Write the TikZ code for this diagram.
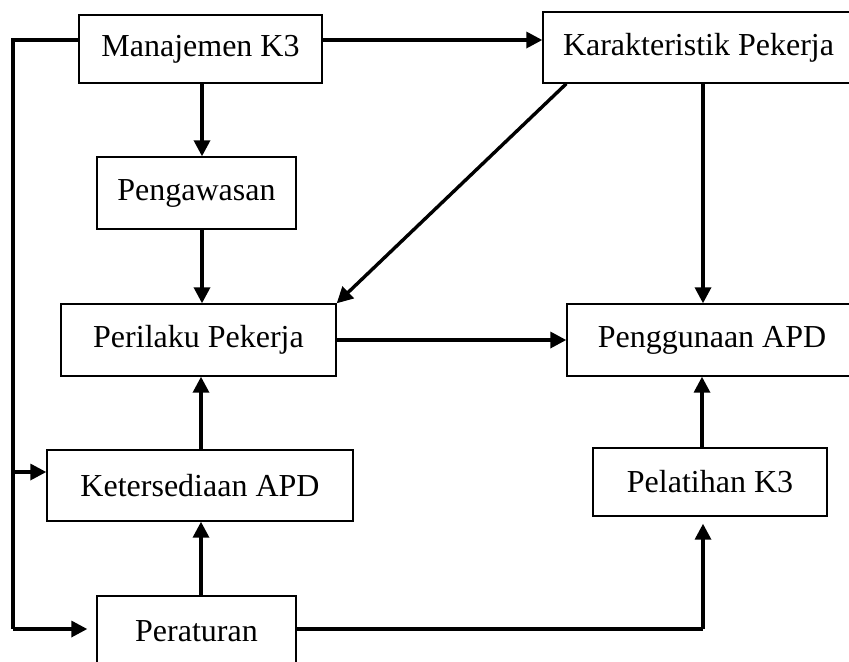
\documentclass[tikz,border=0pt]{standalone}
\usepackage{fontspec}
\setmainfont{Liberation Serif}
\usetikzlibrary{arrows.meta}
\begin{document}
\begin{tikzpicture}[x=0.5pt,y=-0.5pt,
  box/.style={draw,line width=0.7pt,rectangle,inner sep=0pt,font=\fontsize{16}{18}\selectfont},
  conn/.style={line width=1.7pt},
  arr/.style={conn,-{Triangle[length=8pt,width=8pt]}}]
\clip (0,0) rectangle (849,661);
\useasboundingbox (0,0) rectangle (849,661);
\node[box,minimum width=243*0.5pt,minimum height=68*0.5pt] (man) at (200.5,49) {Manajemen K3};
\node[box,minimum width=311*0.5pt,minimum height=71*0.5pt] (kar) at (698.5,47.5) {Karakteristik Pekerja};
\node[box,minimum width=199*0.5pt,minimum height=72*0.5pt] (peng) at (196.5,193) {Pengawasan};
\node[box,minimum width=275*0.5pt,minimum height=72*0.5pt] (peri) at (198.5,340) {Perilaku Pekerja};
\node[box,minimum width=290*0.5pt,minimum height=72*0.5pt] (pgn) at (712,340) {Penggunaan APD};
\node[box,minimum width=306*0.5pt,minimum height=71*0.5pt] (ket) at (200,485.5) {Ketersediaan APD};
\node[box,minimum width=234*0.5pt,minimum height=68*0.5pt] (pel) at (710,482) {Pelatihan K3};
\node[box,minimum width=199*0.5pt,minimum height=71*0.5pt] (per) at (196.5,631.5) {Peraturan};
\coordinate (lt) at (13,40);
\coordinate (lb) at (13,629);
\coordinate (lm) at (13,472);
\coordinate (rb) at (703,629);
% connectors
\draw[arr] (man.east |- lt) -- (kar.west |- lt);
\draw[conn] (man.west |- lt) -- (lt) -- (lb);
\draw[arr,shorten >=4.5pt] (lb) -- (per.west |- lb);
\draw[arr] (lm) -- (ket.west |- lm);
\draw[arr] (man.south -| 202,0) -- (peng.north -| 202,0);
\draw[arr] (peng.south -| 202,0) -- (peri.north -| 202,0);
\draw[arr] ([xshift=12pt]kar.south west) -- (peri.north east);
\draw[arr] (kar.south -| 703,0) -- (pgn.north -| 703,0);
\draw[arr] (peri.east) -- (pgn.west);
\draw[arr] (ket.north -| 201,0) -- (peri.south -| 201,0);
\draw[arr] (per.north -| 201,0) -- (ket.south -| 201,0);
\draw[arr] (pel.north -| 702,0) -- (pgn.south -| 702,0);
\draw[conn] (per.east |- rb) -- (rb);
\draw[arr,shorten >=3.5pt] (rb) -- (pel.south -| rb);
\end{tikzpicture}
\end{document}
